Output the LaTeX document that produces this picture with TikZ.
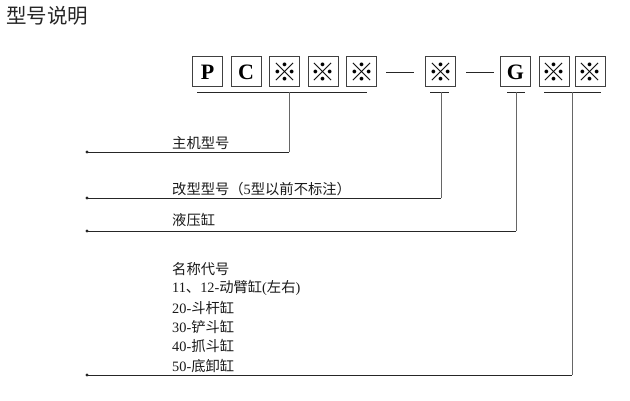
\documentclass[tikz,border=0pt]{standalone}
\usepackage{fontspec}
\setmainfont{Liberation Serif}
\newfontfamily\cjk{Noto Sans CJK SC}
\begin{document}
\begin{tikzpicture}[x=1pt,y=-1pt,
  codebox/.style={draw=black!75, line width=1pt, minimum width=30pt, minimum height=30pt, inner sep=0pt, font=\fontsize{22}{22}\selectfont\bfseries},
  refbox/.style={codebox, font=\cjk\fontsize{25}{25}\selectfont},
  lbl/.style={anchor=west, inner sep=0pt, font=\fontsize{14.3}{16}\selectfont, text=black!90},
  ln/.style={line width=0.9pt, draw=black!85},
  stem/.style={line width=0.9pt, draw=black!60},
  enddot/.style={fill=black!85},
  ]
\useasboundingbox (0,0) rectangle (630,401);
\node[anchor=west, inner sep=0pt, font=\cjk\fontsize{20.5}{22}\selectfont, text=black!85] (title) at (6,16) {型号说明};
% code boxes
\node[codebox] (b1) at (207.5,72) {P};
\node[codebox] (b2) at (246,72) {C};
\node[refbox] (b3) at (284.5,72) {※};
\node[refbox] (b4) at (323,72) {※};
\node[refbox] (b5) at (361.5,72) {※};
\node[refbox] (b6) at (440.5,72) {※};
\node[codebox] (b7) at (515.5,72) {G};
\node[refbox] (b8) at (554,72) {※};
\node[refbox] (b9) at (590,72) {※};
\draw[ln] ([xshift=9pt]b5.east) -- ([xshift=-11pt]b6.west);
\draw[ln] ([xshift=10pt]b6.east) -- ([xshift=-6pt]b7.west);
% brackets and leaders
\coordinate (u1l) at (197,92); \coordinate (u1r) at (367,92);
\coordinate (s1) at (289,92); \coordinate (e1) at (289,152); \coordinate (d1) at (87,152);
\coordinate (u2l) at (430,92); \coordinate (u2r) at (449,92);
\coordinate (s2) at (441,92); \coordinate (e2) at (441,198); \coordinate (d2) at (87,198);
\coordinate (u3l) at (507,92); \coordinate (u3r) at (525,92);
\coordinate (s3) at (516,92); \coordinate (e3) at (516,231); \coordinate (d3) at (87,231);
\coordinate (u4l) at (544,92); \coordinate (u4r) at (601,92);
\coordinate (s4) at (572,92); \coordinate (e4) at (572,375); \coordinate (d4) at (87,375);
\foreach \i in {1,2,3,4}{
  \draw[ln] (u\i l) -- (u\i r);
  \draw[stem] (s\i) -- (e\i);
  \draw[ln] (e\i) -- (d\i);
  \fill[enddot] (d\i) circle (1.6pt);
}
% labels
\node[lbl] (t1) at (172,143) {\cjk 主机型号};
\node[lbl] (t2) at (172,189) {{\cjk 改型型号（}5{\cjk 型以前不标注）}};
\node[lbl] (t3) at (172,220) {\cjk 液压缸};
\node[lbl] (t4) at (172,269) {\cjk 名称代号};
\node[lbl] (t5) at (172,288.3) {11{\cjk 、}12-{\cjk 动臂缸}({\cjk 左右})};
\node[lbl] (t6) at (172,307.6) {20-{\cjk 斗杆缸}};
\node[lbl] (t7) at (172,326.9) {30-{\cjk 铲斗缸}};
\node[lbl] (t8) at (172,346.2) {40-{\cjk 抓斗缸}};
\node[lbl] (t9) at (172,365.5) {50-{\cjk 底卸缸}};
\end{tikzpicture}
\end{document}
